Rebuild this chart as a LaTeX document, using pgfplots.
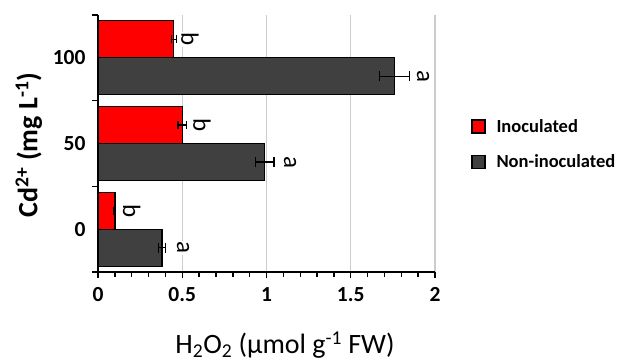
\documentclass[border=0pt]{standalone}
\usepackage{pgfplots}
\pgfplotsset{compat=1.18}
\usepackage{fontspec}
\setmainfont{Carlito}
\definecolor{barred}{RGB}{255,0,0}
\definecolor{bargrey}{RGB}{64,64,64}
\begin{document}
\begin{tikzpicture}
\useasboundingbox (0pt,0pt) rectangle (626pt,-362pt);
\begin{axis}[
  at={(98pt,-272pt)}, anchor=south west,
  scale only axis, width=337pt, height=257pt,
  xmin=0, xmax=2, ymin=-0.5, ymax=2.5,
  axis lines=left,
  axis line style={line width=1.8pt, -},
  /pgf/number format/assume math mode=true,
  xtick={0,0.5,1,1.5,2},
  xticklabels={0,0.5,1,1.5,2},
  minor x tick num=4,
  tick align=outside,
  major tick length=6pt, minor tick length=5pt,
  tick style={line width=1.4pt, black},
  xmajorgrids,
  grid style={black!20, line width=1.2pt},
  ytick={-0.5,0.5,1.5,2.5},
  yticklabels={},
  extra y ticks={0,1,2},
  extra y tick labels={0,50,100},
  extra y tick style={major tick length=0pt, yticklabel style={xshift=-9pt}},
  tick label style={font=\bfseries\fontsize{21.5}{24}\selectfont},
  xticklabel style={yshift=-6pt},
  xlabel={H\textsubscript{2}O\textsubscript{2} (µmol g\textsuperscript{-1} FW)},
  ylabel={Cd\textsuperscript{2+} (mg L\textsuperscript{-1})},
  xlabel style={font=\fontsize{28}{30}\selectfont, at={(axis description cs:0.555,-0.284)}, anchor=center},
  ylabel style={font=\bfseries\fontsize{28}{30}\selectfont, at={(axis description cs:-0.205,0.494)}, anchor=center},
  legend style={at={(axis description cs:1.098,0.611)}, anchor=north west, draw=none, fill=none,
    font=\bfseries\fontsize{18.5}{21}\selectfont, row sep=17pt, cells={anchor=west},
    /tikz/every odd column/.append style={column sep=9pt}},
  legend image code/.code={\draw[#1, line width=1.3pt] (0pt,-6.5pt) rectangle (13pt,6.5pt);},
  clip=false,
]
\addplot[xbar, bar width=37pt, bar shift=0pt, fill=barred, draw=black, line width=1.3pt,
  error bars/.cd, x dir=both, x explicit, error mark=|,
  error bar style={line width=1.5pt, black}, error mark options={line width=1.5pt, black, mark size=4pt}]
  coordinates {(0.10,0.216) +- (0.005,0) (0.50,1.216) +- (0.025,0) (0.45,2.216) +- (0.015,0)};
\addlegendentry{Inoculated}
\addplot[xbar, bar width=37pt, bar shift=0pt, fill=bargrey, draw=black, line width=1.3pt,
  error bars/.cd, x dir=both, x explicit, error mark=|,
  error bar style={line width=1.5pt, black}, error mark options={line width=1.5pt, black, mark size=5pt}]
  coordinates {(0.38,-0.216) +- (0.02,0) (0.99,0.784) +- (0.055,0) (1.76,1.784) +- (0.09,0)};
\addlegendentry{Non-inoculated}
\addplot[forget plot, draw=none, mark=none, nodes near coords, point meta=explicit symbolic,
  every node near coord/.style={anchor=center, rotate=-90, fill=white, inner sep=1pt,
    font=\fontsize{25}{28}\selectfont}]
  table[meta=lab] {
x y lab
0.20 0.216 b
0.617 1.216 b
0.546 2.216 b
0.505 -0.216 a
1.14 0.784 a
1.93 1.784 a
};
\end{axis}
\end{tikzpicture}
\end{document}
